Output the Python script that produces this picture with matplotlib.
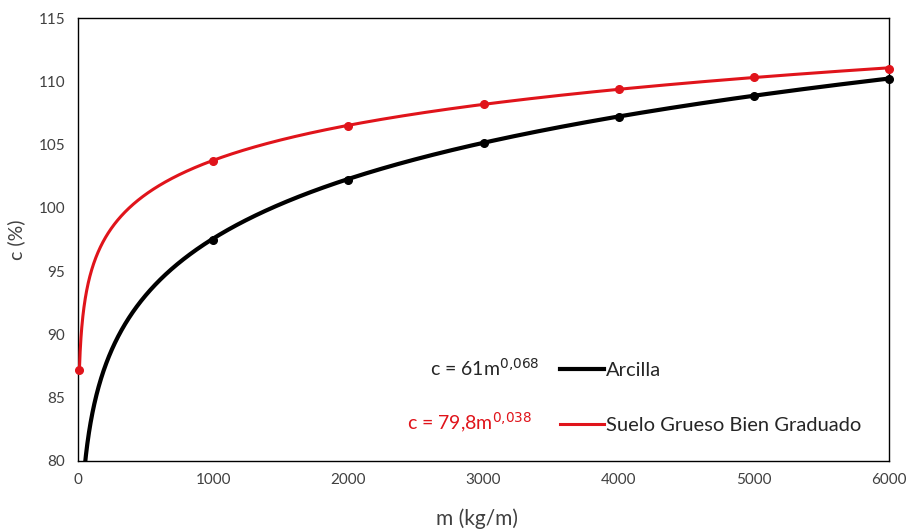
import numpy as np
import matplotlib
matplotlib.use("Agg")
import matplotlib.pyplot as plt
from matplotlib.lines import Line2D

plt.rcParams['font.family'] = ['Lato', 'DejaVu Sans']

# Measured points
m_arcilla = [1000, 2000, 3000, 4000, 5000, 6000]
c_arcilla = [97.5, 102.2, 105.1, 107.2, 108.8, 110.2]
m_suelo = [10, 1000, 2000, 3000, 4000, 5000, 6000]
c_suelo = [87.2, 103.7, 106.5, 108.2, 109.4, 110.3, 111.0]

# Power-law trendlines c = a * m^b
a_arcilla, b_arcilla = 61.0, 0.068
a_suelo, b_suelo = 79.8, 0.038

x_ticks = [0, 1000, 2000, 3000, 4000, 5000, 6000]
y_ticks = [80, 85, 90, 95, 100, 105, 110, 115]

BLACK = "#000000"
RED = "#e0141b"
TXT = "#404040"

fig = plt.figure(figsize=(9.09, 5.30), dpi=100)
ax = fig.add_axes([78/909, 1 - 461/530, (889-78)/909, (461-18)/530])

m_fit_a = np.linspace(1, 6000, 3000)
ax.plot(m_fit_a, a_arcilla * m_fit_a ** b_arcilla, color=BLACK, lw=3.0,
        solid_capstyle='butt', zorder=3)
m_fit_s = np.linspace(m_suelo[0], 6000, 3000)
ax.plot(m_fit_s, a_suelo * m_fit_s ** b_suelo, color=RED, lw=2.2, zorder=3)

ax.plot(m_arcilla, c_arcilla, 'o', color=BLACK, ms=5.5, zorder=4, clip_on=False)
ax.plot(m_suelo, c_suelo, 'o', color=RED, ms=5.5, zorder=4, clip_on=False)

ax.set_xlim(0, 6000)
ax.set_ylim(80, 115)
ax.set_xticks(x_ticks)
ax.set_yticks(y_ticks)
ax.tick_params(length=0, labelsize=11, labelcolor=TXT, pad=9)
for s in ax.spines.values():
    s.set_color("#000000")
    s.set_linewidth(1.0)

fig.text(477/909, 1 - 519/530, "m (kg/m)", fontsize=15, color=TXT,
         ha='center', va='center')
fig.text(16/909, 1 - 240/530, "c (%)", fontsize=14, color=TXT,
         ha='center', va='center', rotation=90)

handles = [Line2D([], [], color=BLACK, lw=3.0),
           Line2D([], [], color=RED, lw=2.2)]
leg = ax.legend(handles, ["Arcilla", "Suelo Grueso Bien Graduado"],
                loc='lower left', bbox_to_anchor=((552 - 78) / 811, (461 - 442) / 443),
                frameon=False, fontsize=14.5, handlelength=2.2, handletextpad=0.1,
                labelspacing=1.9, borderaxespad=0)
for t in leg.get_texts():
    t.set_color("#262626")

fig.text(540/909, 1 - 368/530, r"c = 61m$^{0{,}068}$", fontsize=14,
         color="#262626", ha='right', va='center')
fig.text(532/909, 1 - 423/530, r"c = 79,8m$^{0{,}038}$", fontsize=14,
         color=RED, ha='right', va='center')

fig.savefig("out.png", dpi=100)
